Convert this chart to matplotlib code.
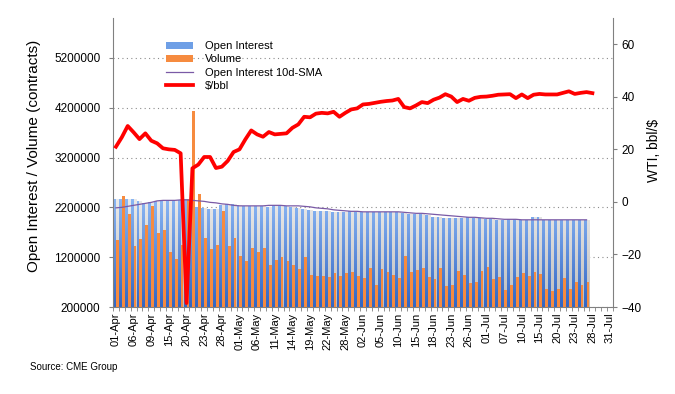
import numpy as np
import matplotlib
matplotlib.use("Agg")
import matplotlib.pyplot as plt
from matplotlib.colors import LinearSegmentedColormap
from matplotlib.patches import Patch
from matplotlib.lines import Line2D
from matplotlib.path import Path

plt.rcParams['font.family'] = ['Liberation Sans', 'DejaVu Sans']

# trading-day categories, Apr 1 - Jul 31 2020; a label on every third day
tick_labels = ['01-Apr', '06-Apr', '09-Apr', '15-Apr', '20-Apr', '23-Apr', '28-Apr',
               '01-May', '06-May', '11-May', '14-May', '19-May', '22-May', '28-May',
               '02-Jun', '05-Jun', '10-Jun', '15-Jun', '18-Jun', '23-Jun', '26-Jun',
               '01-Jul', '07-Jul', '10-Jul', '15-Jul', '20-Jul', '23-Jul', '28-Jul', '31-Jul']
n_days = 85

# contracts, millions
open_interest = [2.36, 2.36, 2.36, 2.36, 2.32, 2.29, 2.31, 2.32, 2.32, 2.34, 2.34, 2.34, 2.36,
                 2.20, 2.20, 2.18, 2.16, 2.17, 2.24, 2.27, 2.27, 2.24, 2.22, 2.22, 2.22, 2.22,
                 2.21, 2.24, 2.25, 2.22, 2.21, 2.18, 2.16, 2.14, 2.13, 2.12, 2.12, 2.10, 2.10,
                 2.10, 2.12, 2.11, 2.11, 2.11, 2.10, 2.11, 2.10, 2.11, 2.10, 2.09, 2.07, 2.06,
                 2.06, 2.04, 2.00, 2.00, 1.98, 1.98, 1.98, 1.98, 2.00, 1.98, 1.98, 1.96, 1.96,
                 1.94, 1.94, 1.96, 1.96, 1.94, 1.94, 2.00, 2.00, 1.94, 1.94, 1.94, 1.94, 1.94,
                 1.94, 1.94, 1.94]
volume = [1.54, 2.42, 2.06, 1.42, 1.56, 1.84, 2.22, 1.68, 1.74, 1.30, 1.17, 1.44, 2.37,
          4.14, 2.46, 1.59, 1.36, 1.44, 2.12, 1.42, 1.58, 1.22, 1.12, 1.38, 1.30, 1.38,
          1.04, 1.14, 1.20, 1.12, 1.04, 0.96, 1.20, 0.84, 0.82, 0.82, 0.80, 0.88, 0.82,
          0.88, 0.90, 0.82, 0.78, 0.98, 0.64, 0.96, 0.90, 0.84, 0.78, 1.22, 0.90, 0.94,
          0.98, 0.80, 0.76, 0.98, 0.62, 0.64, 0.92, 0.84, 0.68, 0.70, 0.92, 1.00, 0.76,
          0.80, 0.54, 0.64, 0.80, 0.88, 0.82, 0.90, 0.86, 0.56, 0.52, 0.56, 0.78, 0.56,
          0.70, 0.64, 0.70]
oi_sma = [2.19, 2.20, 2.22, 2.24, 2.26, 2.28, 2.30, 2.33, 2.34, 2.34, 2.34, 2.35, 2.35,
          2.34, 2.33, 2.32, 2.30, 2.29, 2.27, 2.26, 2.24, 2.23, 2.23, 2.23, 2.23, 2.23,
          2.24, 2.24, 2.24, 2.23, 2.23, 2.23, 2.22, 2.21, 2.19, 2.18, 2.17, 2.15, 2.14,
          2.13, 2.12, 2.12, 2.11, 2.11, 2.11, 2.11, 2.11, 2.11, 2.11, 2.10, 2.09, 2.08,
          2.08, 2.07, 2.06, 2.05, 2.04, 2.03, 2.02, 2.01, 2.00, 2.00, 1.99, 1.98, 1.98,
          1.97, 1.96, 1.96, 1.96, 1.95, 1.95, 1.95, 1.95, 1.95, 1.95, 1.95, 1.95, 1.95,
          1.95, 1.95, 1.95]
# WTI $/bbl
price = [21.0, 24.6, 28.9, 26.5, 23.9, 26.1, 23.3, 22.3, 20.4, 20.0, 19.8, 18.5, -38.5,
         12.8, 14.2, 17.1, 17.1, 12.9, 13.4, 15.6, 19.0, 20.0, 23.8, 27.2, 25.7, 24.8,
         26.6, 25.7, 25.9, 26.1, 28.2, 29.5, 32.4, 32.2, 33.6, 33.9, 33.7, 34.3, 32.4,
         33.9, 35.2, 35.6, 37.1, 37.3, 37.7, 38.1, 38.4, 38.6, 39.2, 36.1, 35.6, 36.7,
         38.0, 37.6, 38.9, 39.7, 41.0, 40.1, 38.0, 39.2, 38.5, 39.6, 40.0, 40.1, 40.4,
         40.8, 40.9, 41.0, 39.5, 40.9, 39.5, 40.8, 41.1, 40.9, 40.9, 40.9, 41.5, 42.1,
         41.1, 41.5, 41.8, 41.4]

BLUE_TOP, BLUE_BOT = '#8fbaf6', '#3266c4'
ORANGE = '#f68b3f'
PURPLE = '#7a5aa6'
GREY = '#808080'

oi = np.array(open_interest) * 1e6
vol = np.array(volume) * 1e6
sma = np.array(oi_sma) * 1e6
x = np.arange(len(oi))
ymin, ymax = 200000, 6000000


def gradient_fill(ax, bars, top, bottom, zorder):
    # one vertical gradient image, clipped to the union of the bar rectangles
    paths = [b.get_path().transformed(b.get_patch_transform()) for b in bars]
    clip = Path.make_compound_path(*paths)
    cmap = LinearSegmentedColormap.from_list('g', [bottom, top])
    img = ax.imshow(np.linspace(0, 1, 256).reshape(-1, 1), cmap=cmap, aspect='auto',
                    origin='lower', extent=[-1, n_days, ymin, 2.45e6], zorder=zorder,
                    interpolation='bilinear')
    img.set_clip_path(clip, ax.transData)
    for b in bars:
        b.set_visible(False)


fig = plt.figure(figsize=(6.75, 3.94), dpi=100)
ax = fig.add_axes([113 / 675, 1 - 307 / 394, 500 / 675, 289 / 394])

shadow = ax.bar(x + 0.25, oi, width=0.52, bottom=0)
gradient_fill(ax, shadow, '#ececec', '#bdbdbd', 1)
blue = ax.bar(x - 0.25, oi, width=0.5, bottom=0)
gradient_fill(ax, blue, BLUE_TOP, BLUE_BOT, 2)
ax.bar(x + 0.24, vol, width=0.48, color=ORANGE, zorder=3)
ax.plot(x, sma, color=PURPLE, lw=0.9, zorder=4)

ax.set_xlim(-0.5, n_days - 0.5)
ax.set_ylim(ymin, ymax)
ax.set_yticks(np.arange(200000, 5200001, 1000000))
ax.set_yticklabels([f'{v:d}' for v in range(200000, 5200001, 1000000)])
ax.set_xticks(np.arange(0, n_days, 3))
ax.set_xticklabels(tick_labels, rotation=90, fontsize=8)
ax.set_xticks(np.arange(-0.5, n_days, 1), minor=True)
ax.tick_params(axis='x', which='major', length=0, pad=4)
ax.tick_params(axis='x', which='minor', length=3, color=GREY)
ax.tick_params(axis='y', length=3, color=GREY, pad=6, labelsize=8.5)
ax.yaxis.grid(True, linestyle=(0, (1, 3)), color='#8c8c8c', lw=0.8)
ax.set_axisbelow(True)
ax.set_ylabel('Open Interest / Volume (contracts)', fontsize=11)
ax.yaxis.set_label_coords(-0.143, 0.524)
for s in ['top', 'right']:
    ax.spines[s].set_visible(False)
for s in ['left', 'bottom']:
    ax.spines[s].set_color(GREY)

ax2 = ax.twinx()
ax2.plot(np.arange(len(price)), price, color='#ff0000', lw=2.7, solid_joinstyle='round')
ax2.set_ylim(-40, 70)
ax2.set_yticks(np.arange(-40, 61, 20))
ax2.tick_params(axis='y', length=3, color=GREY, pad=3, labelsize=8.5)
ax2.set_ylabel('WTI, bbl/$', fontsize=10)
ax2.yaxis.set_label_coords(1.068, 0.543)
for s in ['top', 'left', 'bottom']:
    ax2.spines[s].set_visible(False)
ax2.spines['right'].set_color(GREY)

handles = [Patch(facecolor='#6e9fe6'), Patch(facecolor=ORANGE),
           Line2D([], [], color=PURPLE, lw=0.9), Line2D([], [], color='#ff0000', lw=2.7)]
labels = ['Open Interest', 'Volume', 'Open Interest 10d-SMA', '$/bbl']
ax2.legend(handles, labels, loc='upper left', bbox_to_anchor=(0.106, 0.92), frameon=False,
           fontsize=8, handlelength=2.4, handleheight=0.6, handletextpad=1.1,
           labelspacing=0.3, borderpad=0, borderaxespad=0)

fig.text(30 / 675, 1 - 367 / 394, 'Source: CME Group', fontsize=7, va='center')

fig.savefig('out.png', dpi=100)
